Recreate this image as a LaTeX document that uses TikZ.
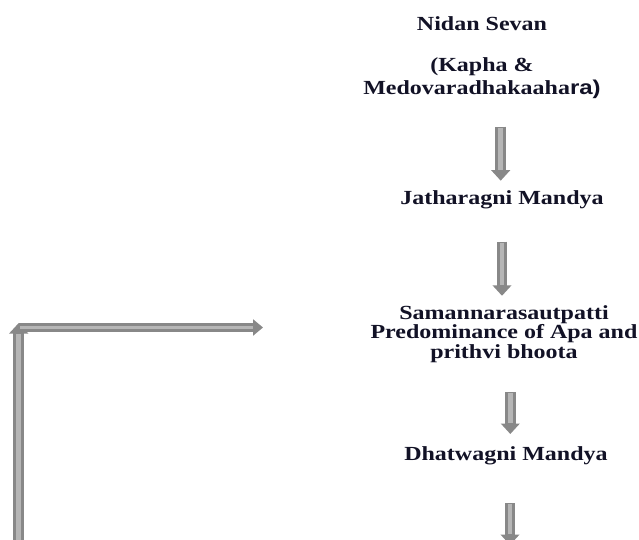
\documentclass[tikz,border=0pt]{standalone}
\usepackage{fontspec}
\setmainfont{Liberation Serif}
\newfontfamily\sansfam{Liberation Sans}
\usetikzlibrary{arrows.meta,calc}
\definecolor{ink}{RGB}{18,18,38}
\definecolor{arrowedge}{RGB}{136,136,136}
\definecolor{arrowface}{RGB}{182,182,182}
% centred block of lines whose reference point is the first baseline
\newcommand\stack[1]{\begin{tabular}[t]{@{}c@{}}#1\end{tabular}}
\begin{document}
\begin{tikzpicture}[x=1pt,y=-1pt,
  lbl/.style={anchor=base, inner sep=0pt, outer sep=0pt, xscale=1.2, text=ink,
    font=\bfseries\fontsize{20}{23}\selectfont},
  tight/.style={font=\bfseries\fontsize{20}{19.5}\selectfont},
  vblock/.style={draw=arrowedge, line width=10.5pt,
    -{Triangle[width=18.5pt,length=10.5pt]},
    postaction={draw=arrowface, line width=4.5pt, -, shorten >=11pt, shorten <=1pt}},
  hblock/.style={draw=arrowedge, line width=9pt,
    -{Triangle[width=16pt,length=10pt]},
    postaction={draw=arrowface, line width=3.5pt, -, shorten >=10.5pt, shorten <=1pt}}]
\useasboundingbox (0,0) rectangle (639,540);
\fill[white] (0,0) rectangle (639,540);
\clip (0,0) rectangle (639,540);

% flow of stages
\node[lbl] (nidan) at (482,30.5) {\stack{Nidan Sevan}};
\node[lbl] (kapha) at (482,72) {\stack{(Kapha \&\\Medovaradhakaaha{\sansfam ra)}}};
\node[lbl] (jath) at (502,204.5) {\stack{Jatharagni Mandya}};
\node[lbl,tight] (saman) at (504,319) {\stack{Samannarasautpatti\\Predominance of Apa and\\prithvi bhoota}};
\node[lbl] (dhat) at (506,460.5) {\stack{Dhatwagni Mandya}};

\draw[vblock] ($(kapha.south -| jath.base)+(-1.3,24.8)$) -- ($(jath.north)+(-1.3,-7.7)$);
\draw[vblock] ($(jath.south)+(0,30.3)$) -- ($(saman.north)+(-2,-9.35)$);
\draw[vblock] ($(saman.south)+(6.3,27.85)$) -- ($(dhat.north)+(4.3,-10.4)$);
\coordinate (onward) at (510,545);
\draw[vblock] ($(dhat.south)+(4,35.9)$) -- (onward);

% feedback loop on the left
\coordinate (loopfoot) at (18.7,560);
\coordinate (loopturn) at (18.7,323);
\coordinate (loopend) at (263,327.5);
\draw[vblock] (loopfoot) -- (loopturn);
\draw[hblock] (loopturn |- loopend) -- (loopend);
\end{tikzpicture}
\end{document}
